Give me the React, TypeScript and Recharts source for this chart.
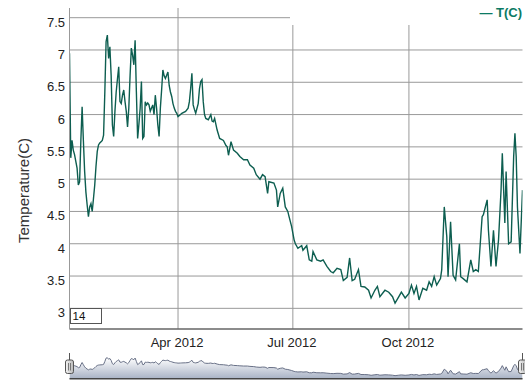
import { LineChart, Line, XAxis, YAxis, CartesianGrid, AreaChart, Area } from 'recharts'

// day of year 2012 (Jan 1 = 1) and the reading for that day
const DAYS = [
  6, 7, 8, 9, 10, 12, 13, 14, 15, 16, 17, 18, 19, 20, 21, 22, 23, 24, 25, 26,
  27, 28, 29, 30, 31, 32, 33, 34, 35, 36, 37, 38, 39, 40, 41, 42, 43, 44, 45, 46,
  47, 48, 49, 50, 51, 52, 53, 54, 55, 56, 57, 58, 59, 60, 61, 62, 63, 64, 65, 66,
  67, 68, 69, 70, 71, 72, 73, 74, 75, 76, 77, 78, 79, 80, 81, 82, 83, 84, 85, 86,
  87, 88, 89, 90, 91, 92, 94, 95, 98, 100, 101, 102, 103, 104, 105, 106, 108, 109, 110, 111,
  112, 113, 114, 116, 118, 119, 120, 121, 123, 125, 128, 130, 131, 132, 134, 136, 139, 141, 144, 147,
  149, 152, 154, 157, 159, 161, 163, 164, 168, 170, 171, 173, 175, 177, 179, 180, 182, 184, 185, 187,
  190, 191, 194, 196, 198, 199, 202, 205, 207, 210, 213, 215, 218, 221, 223, 226, 228, 230, 232, 235,
  237, 240, 243, 245, 248, 250, 252, 256, 259, 262, 264, 267, 269, 272, 275, 277, 279, 281, 283, 286,
  289, 291, 293, 295, 297, 300, 301, 303, 305, 306, 308, 310, 312, 315, 316, 318, 321, 324, 326, 328,
  330, 333, 334, 337, 338, 340, 342, 344, 346, 348, 349, 351, 352, 354, 356, 358, 359, 360, 361, 363,
  365,
]

const TEMPS = [
  6.95, 5.33, 5.6, 5.45, 5.38, 5.17, 4.91, 4.96, 5.6, 6.12, 5.6, 5.12, 4.8, 4.6, 4.42, 4.57, 4.62, 4.5, 4.7, 4.91,
  5.2, 5.43, 5.53, 5.56, 5.58, 5.6, 5.68, 6.35, 7.13, 7.23, 6.87, 7.05, 6.61, 5.84, 5.66, 6.05, 6.35, 6.55, 6.74, 6.2,
  6.17, 6.3, 6.38, 6.2, 6.05, 5.81, 6.1, 6.6, 7.03, 6.92, 6.77, 7.15, 6.35, 5.63, 5.85, 6.1, 6.51, 5.63, 5.66, 6.2,
  6.15, 6.18, 6.15, 6.05, 6.1, 6.15, 6.0, 6.3, 6.1, 5.84, 5.66, 6.1, 6.38, 6.69, 6.6, 6.56, 6.61, 6.66, 6.45, 6.35,
  6.28, 6.17, 6.1, 6.05, 6.02, 5.97, 6.0, 6.02, 6.05, 6.1, 6.2, 6.4, 6.64, 6.15, 6.08, 6.02, 6.17, 6.4, 6.51, 6.54,
  6.2, 6.0, 5.94, 5.92, 6.0, 5.9, 5.89, 5.94, 5.76, 5.63, 5.6, 5.52, 5.5, 5.37, 5.58, 5.45, 5.4, 5.35, 5.3, 5.3,
  5.22, 5.17, 5.07, 5.0, 5.07, 5.04, 4.78, 4.96, 4.94, 4.83, 4.57, 4.78, 4.86, 4.57, 4.5, 4.42, 4.27, 4.06, 4.0, 3.93,
  3.97, 3.9, 3.97, 3.75, 3.73, 3.88, 3.75, 3.73, 3.75, 3.65, 3.57, 3.55, 3.62, 3.6, 3.43, 3.48, 3.78, 3.43, 3.45, 3.6,
  3.34, 3.33, 3.28, 3.16, 3.28, 3.34, 3.18, 3.28, 3.25, 3.18, 3.08, 3.18, 3.25, 3.16, 3.23, 3.36, 3.23, 3.34, 3.13, 3.31,
  3.28, 3.41, 3.34, 3.49, 3.36, 3.46, 3.6, 4.57, 4.11, 3.49, 4.34, 3.51, 3.44, 4.0, 3.49, 3.46, 3.41, 3.75, 3.57, 3.6,
  3.57, 4.42, 4.45, 4.68, 4.21, 3.65, 4.21, 3.65, 4.06, 4.83, 5.4, 4.32, 5.12, 4.0, 4.03, 5.35, 5.71, 5.35, 4.57, 3.85,
  4.83,
]

const X_TICKS = [Date.UTC(2012, 3, 1), Date.UTC(2012, 6, 1), Date.UTC(2012, 9, 1)]
const X_TICK_LABELS = ['Apr 2012', 'Jul 2012', 'Oct 2012']
const Y_TICKS = [3, 3.5, 4, 4.5, 5, 5.5, 6, 6.5, 7, 7.5]
const SERIES_NAME = 'T(C)'
const Y_LABEL = 'Temperature(C)'
const ROLL_PERIOD = '14'

const FONT = '"Liberation Sans", Arial, sans-serif'
const LINE_COLOR = '#0d5e50'

const data = DAYS.map((d, i) => ({ t: Date.UTC(2012, 0, d), temp: TEMPS[i] }))
const xDomain = [data[0].t, data[data.length - 1].t]

const XTick = ({ x, y, payload }: any) => {
  const idx = X_TICKS.indexOf(payload.value)
  return (
    <text x={x - 1} y={y + 17.5} textAnchor="middle" fontSize={13} fill="#222" fontFamily={FONT}>
      {X_TICK_LABELS[idx]}
    </text>
  )
}

const YTick = ({ x, y, payload }: any) => (
  <text x={x - 4.5} y={y + 9} textAnchor="end" fontSize={13} fill="#222" fontFamily={FONT}>
    {payload.value}
  </text>
)

const YLabel = ({ viewBox }: any) => {
  const cy = viewBox.y + viewBox.height / 2 + 22
  return (
    <text
      transform={`translate(28.5, ${cy}) rotate(-90)`}
      textAnchor="middle"
      fontSize={15}
      fill="#333"
      fontFamily={FONT}
    >
      {Y_LABEL}
    </text>
  )
}

export default function App() {
  return (
    <div style={{ position: 'absolute', left: 0, top: 0, width: 525, height: 381, background: '#fff' }}>
      <LineChart
        width={525}
        height={352}
        data={data}
        margin={{ top: 8, right: 2.5, bottom: 0, left: 0.5 }}
      >
        <CartesianGrid
          stroke="#999"
          strokeWidth={1}
          horizontalValues={Y_TICKS}
          verticalValues={X_TICKS}
        />
        <XAxis
          dataKey="t"
          type="number"
          domain={xDomain}
          ticks={X_TICKS}
          tick={<XTick />}
          tickLine={false}
          tickSize={0}
          tickMargin={0}
          height={23}
          axisLine={{ stroke: '#666', strokeWidth: 1.5 }}
          allowDataOverflow
        />
        <YAxis
          type="number"
          domain={[2.68, 7.65]}
          ticks={Y_TICKS}
          tick={<YTick />}
          tickLine={false}
          tickSize={0}
          tickMargin={0}
          width={69}
          axisLine={{ stroke: '#999' }}
          allowDataOverflow
          label={<YLabel />}
        />
        <Line
          type="linear"
          dataKey="temp"
          stroke={LINE_COLOR}
          strokeWidth={1.4}
          dot={false}
          isAnimationActive={false}
        />
      </LineChart>

      {/* legend box, covers the top-right of the grid like the original */}
      <div
        style={{
          position: 'absolute',
          left: 290,
          top: 0,
          width: 235,
          height: 25,
          background: '#fff',
          textAlign: 'right',
          fontFamily: FONT,
          fontSize: 13,
          fontWeight: 'bold',
          color: '#0b7a64',
          lineHeight: '25px',
          paddingRight: 3,
          boxSizing: 'border-box',
          whiteSpace: 'nowrap',
        }}
      >
        — {SERIES_NAME}
      </div>

      {/* roll period box */}
      <div
        style={{
          position: 'absolute',
          left: 69.5,
          top: 307.5,
          width: 32,
          height: 16.5,
          border: '1px solid #555',
          background: '#fff',
          boxSizing: 'border-box',
          fontFamily: FONT,
          fontSize: 11.5,
          lineHeight: '14px',
          paddingLeft: 2,
          color: '#111',
        }}
      >
        {ROLL_PERIOD}
      </div>

      {/* range selector */}
      <div style={{ position: 'absolute', left: 0, top: 353 }}>
        <AreaChart width={525} height={26} data={data} margin={{ top: 0, right: 2.5, bottom: 0, left: 69.5 }}>
          <defs>
            <linearGradient id="rsFill" x1="0" y1="0" x2="0" y2="1">
              <stop offset="0%" stopColor="#ffffff" />
              <stop offset="100%" stopColor="#a7b1c4" />
            </linearGradient>
          </defs>
          <XAxis dataKey="t" type="number" domain={xDomain} hide allowDataOverflow />
          <YAxis type="number" domain={[2.3, 8.32]} hide allowDataOverflow />
          <Area
            type="linear"
            dataKey="temp"
            stroke="#687086"
            strokeWidth={1}
            fill="url(#rsFill)"
            fillOpacity={1}
            baseValue="dataMin"
            isAnimationActive={false}
          />
        </AreaChart>
      </div>

      <svg
        width={525}
        height={381}
        style={{ position: 'absolute', left: 0, top: 0, pointerEvents: 'none' }}
      >
        <defs>
          <linearGradient id="handleFill" x1="0" y1="0" x2="1" y2="0">
            <stop offset="0%" stopColor="#f4f4f4" />
            <stop offset="100%" stopColor="#b8b8b8" />
          </linearGradient>
        </defs>
        <line x1={69.5} y1={378.8} x2={522.5} y2={378.8} stroke="#444" strokeWidth={1.5} />
        {[69.5, 522.5].map((hx) => (
          <g key={hx}>
            <line x1={hx} y1={353} x2={hx} y2={360} stroke="#555" />
            <rect x={hx - 4} y={360} width={8} height={13.5} rx={2} fill="url(#handleFill)" stroke="#555" />
            <line x1={hx - 1} y1={363} x2={hx - 1} y2={370.5} stroke="#777" />
            <line x1={hx + 1} y1={363} x2={hx + 1} y2={370.5} stroke="#777" />
          </g>
        ))}
      </svg>
    </div>
  )
}
